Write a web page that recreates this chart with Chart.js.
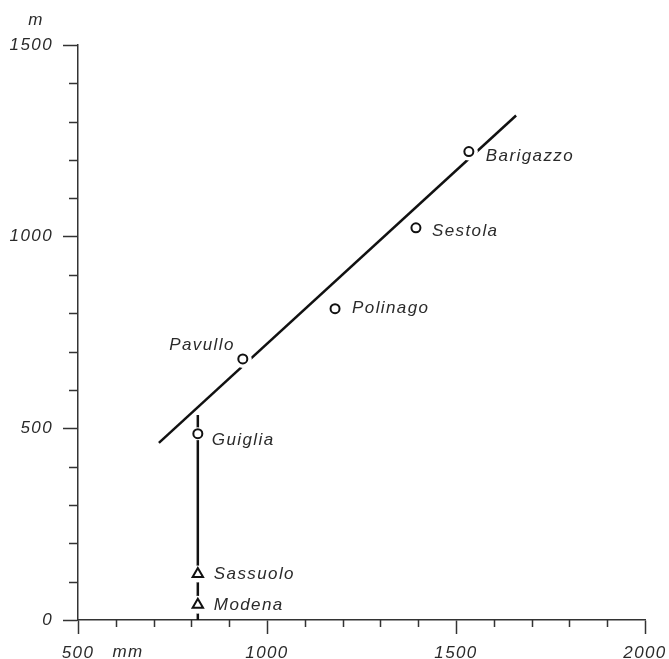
<!DOCTYPE html>
<html>
<head>
<meta charset="utf-8">
<script src="https://cdn.jsdelivr.net/npm/chart.js@4"></script>
<style>
  html, body { margin: 0; padding: 0; background: #ffffff; }
  #wrap { width: 669px; height: 659px; }
</style>
</head>
<body>
<div id="wrap"><canvas id="c" width="669" height="659"></canvas></div>
<script>
// ---- data ----
const stations  = ['Barigazzo', 'Sestola', 'Polinago', 'Pavullo', 'Guiglia', 'Sassuolo', 'Modena'];
const rainfall  = [1534, 1394, 1180, 936, 817, 817, 817];   // mm
const elevation = [1222, 1023, 812, 681, 486, 120, 40];      // m
const trendX = [714, 1659];
const trendY = [462, 1316];
const stemX = [817, 817];
const stemY = [535, 0];
const xTicks = [500, 1000, 1500, 2000];
const yTicks = [0, 500, 1000, 1500];

// ---- style ----
const INK = '#111111';
const TXT = '#2a2a2a';
const FONT = "'Liberation Sans', Arial, sans-serif";
const markerStyle = ['circle', 'circle', 'circle', 'circle', 'circle', 'triangle', 'triangle'];
const markerRadius = [4.5, 4.5, 4.5, 4.5, 4.5, 6, 6];
const maskRadius = [9, 0, 0, 9, 6.5, 8.5, 9];
const labelOffset = [[17, 5, 'left'], [16, 3, 'left'], [17, 0, 'left'], [-8, -14, 'right'], [14, 7, 'left'], [16, 0, 'left'], [16, 1, 'left']];

const pts = rainfall.map((v, i) => ({ x: v, y: elevation[i] }));

const decor = {
  id: 'decor',
  beforeDraw(chart) { chart.ctx.letterSpacing = '1.4px'; },
  afterDraw(chart) {
    const ctx = chart.ctx, xs = chart.scales.x, ys = chart.scales.y;
    const left = ys.right, bottom = xs.top;
    ctx.save();
    ctx.strokeStyle = '#333';
    ctx.lineWidth = 1.5;
    ctx.beginPath();
    for (let v = 100; v < 1500; v += 100) {
      if (v % 500 === 0) continue;
      const y = Math.round(ys.getPixelForValue(v)) + 0.5;
      ctx.moveTo(left - 9, y); ctx.lineTo(left, y);
    }
    for (let v = 600; v < 2000; v += 100) {
      if (v % 500 === 0) continue;
      const x = Math.round(xs.getPixelForValue(v)) + 0.5;
      ctx.moveTo(x, bottom); ctx.lineTo(x, bottom + 7);
    }
    ctx.stroke();
    ctx.letterSpacing = '1.4px';
    ctx.fillStyle = TXT;
    ctx.font = 'italic 17px ' + FONT;
    ctx.textBaseline = 'middle';
    ctx.textAlign = 'center';
    ctx.fillText('m', 36, 20);
    ctx.fillText('mm', 128, 652);
    stations.forEach((s, i) => {
      const [dx, dy, al] = labelOffset[i];
      ctx.textAlign = al;
      const px = xs.getPixelForValue(rainfall[i]) + dx;
      const py = ys.getPixelForValue(elevation[i]) + dy;
      ctx.fillText(s, px, py);
    });
    ctx.restore();
  }
};

new Chart(document.getElementById('c'), {
  type: 'scatter',
  data: {
    datasets: [
      {
        label: 'trend',
        type: 'line',
        data: trendX.map((v, i) => ({ x: v, y: trendY[i] })),
        borderColor: INK, borderWidth: 2.5, pointRadius: 0, fill: false, order: 3
      },
      {
        label: 'stem',
        type: 'line',
        data: stemX.map((v, i) => ({ x: v, y: stemY[i] })),
        borderColor: INK, borderWidth: 2.5, pointRadius: 0, fill: false, order: 3
      },
      {
        label: 'mask',
        data: pts,
        pointStyle: 'circle',
        pointRadius: maskRadius,
        backgroundColor: '#ffffff', borderWidth: 0, borderColor: '#ffffff',
        order: 2
      },
      {
        label: 'stations',
        data: pts,
        pointStyle: markerStyle,
        pointRadius: markerRadius,
        backgroundColor: '#ffffff', borderColor: INK, borderWidth: 2,
        order: 1
      }
    ]
  },
  options: {
    responsive: false,
    animation: false,
    devicePixelRatio: 1,
    layout: { padding: { top: 45, right: 24, left: 0, bottom: 0 } },
    plugins: { legend: { display: false }, tooltip: { enabled: false } },
    scales: {
      x: {
        type: 'linear', min: 500, max: 2000,
        afterFit(s) { s.height = 39; s.paddingLeft = 0; s.paddingRight = 0; },
        afterBuildTicks(s) { s.ticks = xTicks.map(v => ({ value: v })); },
        border: { color: '#333', width: 1.5 },
        grid: { drawOnChartArea: false, tickLength: 14, tickColor: '#333', tickWidth: 1.5 },
        ticks: { color: TXT, padding: 9, maxRotation: 0, callback: v => String(v),
                 font: { family: FONT, size: 17, style: 'italic' } }
      },
      y: {
        type: 'linear', min: 0, max: 1500,
        afterFit(s) { s.width = 78; s.paddingTop = 0; s.paddingBottom = 0; },
        afterBuildTicks(s) { s.ticks = yTicks.map(v => ({ value: v })); },
        border: { color: '#333', width: 1.5 },
        grid: { drawOnChartArea: false, tickLength: 15, tickColor: '#333', tickWidth: 1.5 },
        ticks: { color: TXT, padding: 10, callback: v => String(v),
                 font: { family: FONT, size: 17, style: 'italic' } }
      }
    }
  },
  plugins: [decor]
});
</script>
</body>
</html>
